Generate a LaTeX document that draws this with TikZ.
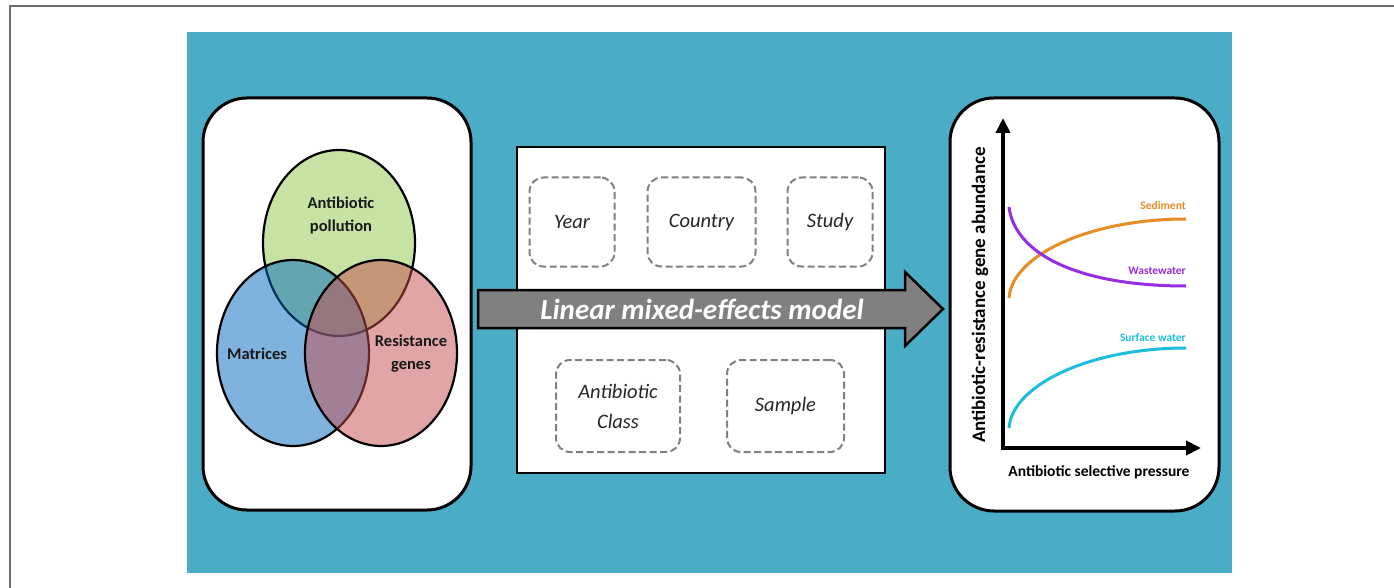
\documentclass[tikz,border=0pt]{standalone}
\usepackage{fontspec}
\setmainfont{Carlito}
\usetikzlibrary{arrows.meta,positioning,calc}
\definecolor{lmmteal}{HTML}{4BACC6}
\definecolor{venngreen}{RGB}{145,201,75}
\definecolor{vennblue}{RGB}{0,105,190}
\definecolor{vennred}{RGB}{197,77,77}
\definecolor{sedorange}{RGB}{232,140,35}
\definecolor{wwpurple}{RGB}{150,45,228}
\definecolor{swcyan}{RGB}{28,190,222}
\definecolor{framegrey}{RGB}{110,110,110}

\begin{document}
\begin{tikzpicture}[
  x=1pt, y=-1pt,
  node distance=30pt,
  panel/.style={draw=black, line width=3pt, rounded corners=44pt, fill=white,
                inner sep=0pt},
  venn/.style={draw=black, line width=2.2pt, fill opacity=0.5},
  vlbl/.style={font=\fontsize{16.5}{23}\selectfont\bfseries, align=center,
               text=black!90},
  factor/.style={draw=black!50, line width=2pt, dash pattern=on 7pt off 3.5pt,
                 rounded corners=14pt, font=\fontsize{20.5}{30}\selectfont\itshape,
                 align=center, text=black!85, minimum height=89pt},
  bigarrow/.style={draw=black, line width=2.5pt, fill=black!50},
  axis/.style={line width=4pt},
  curve/.style={line width=3pt},
  clbl/.style={font=\fontsize{11.5}{13}\selectfont\bfseries, anchor=east,
               inner sep=0pt},
]
  \useasboundingbox (0,0) rectangle (1394,588);
  \fill[white] (0,0) rectangle (1394,588);
  \draw[framegrey, line width=1.5pt] (10,588) -- (10,6) -- (1394,6);
  \fill[lmmteal] (187,32) rectangle (1232,573);

  %% -- Venn panel --
  \node[panel, minimum width=268pt, minimum height=412pt] (vennbox) at (337,304) {};
  \draw[venn, fill=venngreen] (339,243) ellipse [x radius=76pt, y radius=93pt];
  \draw[venn, fill=vennblue]  (293,353) ellipse [x radius=76pt, y radius=93pt];
  \draw[venn, fill=vennred]   (381,353) ellipse [x radius=76pt, y radius=93pt];
  \node[vlbl] (pollution) at (341,215) {Antibiotic\\pollution};
  \node[vlbl] (matrices) at (257,354) {Matrices};
  \node[vlbl] (genes) at (411,354) {Resistance\\genes};

  %% -- Random effects --
  \node[draw=black, line width=2.5pt, fill=white, minimum width=368pt,
        minimum height=326pt] (modelbox) at (701,310) {};
  \node[factor, minimum width=85pt] (year) at (572,222) {Year};
  \node[factor, minimum width=108pt, right=31pt of year] (country) {Country};
  \node[factor, minimum width=85pt, right=30pt of country] (study) {Study};
  \node[factor, minimum width=124pt, minimum height=92pt] (abclass) at (618,406)
    {Antibiotic\\Class};
  \node[factor, minimum width=117pt, minimum height=92pt, right=45pt of abclass]
    (sample) {Sample};

  %% -- Model arrow --
  \draw[bigarrow] (478,290) -- (905,290) -- (905,272) -- (943,309)
    -- (905,346) -- (905,328) -- (478,328) -- cycle;
  \node[font=\fontsize{29}{34}\selectfont\bfseries\itshape, text=white] (lmm)
    at (702,309) {Linear mixed-effects model};

  %% -- Response panel --
  \node[panel, minimum width=269pt, minimum height=413pt] (graphbox) at (1084.5,304.5) {};
  \coordinate (origin) at (1003,448);
  \coordinate (ytop) at (1003,118);
  \coordinate (xend) at (1201,448);
  \draw[axis, {Triangle[length=15pt,width=14pt]}-{Triangle[length=15pt,width=14pt]}]
    (ytop) -- (origin) -- (xend);
  \node[rotate=90, font=\fontsize{19}{22}\selectfont\bfseries] (ylbl) at (980,295)
    {Antibiotic-resistance gene abundance};
  \node[font=\fontsize{15.5}{18}\selectfont\bfseries] (xlbl) at (1099,472)
    {Antibiotic selective pressure};

  \draw[curve, sedorange] (1009,298) .. controls (1012,255) and (1090,219) .. (1186,219);
  \draw[curve, wwpurple] (1009,207) .. controls (1015,255) and (1080,286) .. (1186,286);
  \draw[curve, swcyan] (1009,428) .. controls (1012,385) and (1090,348) .. (1186,348);
  \node[clbl, text=sedorange] (sediment) at (1186,206) {Sediment};
  \node[clbl, text=wwpurple] (wastewater) at (1186,271) {Wastewater};
  \node[clbl, text=swcyan] (surface) at (1186,338) {Surface water};
\end{tikzpicture}
\end{document}
